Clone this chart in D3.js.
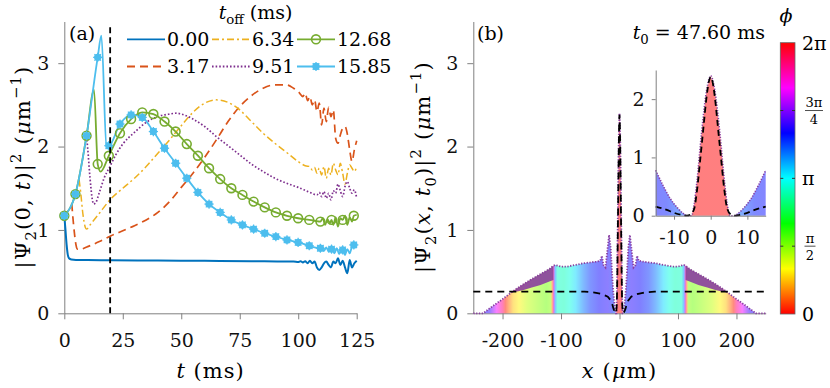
<!DOCTYPE html>
<html>
<head>
<meta charset="utf-8">
<script src="https://cdn.jsdelivr.net/npm/d3@7"></script>
<style>
  body { margin: 0; background: #fff; }
</style>
</head>
<body>
<svg id="fig" width="830" height="388"></svg>
<script>
// ---------- panel (a): |Psi_2(0,t)|^2 for several t_off ----------
const tOffLabels = ["0.00", "3.17", "6.34", "9.51", "12.68", "15.85"];
const seriesColors = ["#0072BD", "#D95319", "#EDB120", "#7E2F8E", "#77AC30", "#4DBEEE"];
const tCut = 19.6;   // vertical dashed marker (ms)

const t000 = [0,0.5,1,1.5,2,3,5,10,20,40,60,80,95,98,100,101,102,103,104,105,106,107,108,109,110,111,112,113,114,115,116,117,118,119,120,121,122,123,124,125];
const y000 = [1.17,1.0,0.82,0.70,0.66,0.645,0.64,0.64,0.635,0.632,0.63,0.625,0.62,0.62,0.615,0.625,0.61,0.625,0.60,0.63,0.60,0.62,0.55,0.52,0.55,0.60,0.62,0.58,0.55,0.62,0.60,0.66,0.58,0.63,0.55,0.48,0.64,0.55,0.60,0.63];

const t317 = [3.17,4,5,5.5,7,10,15,20,25,30,35,40,45,50,55,60,65,70,75,80,85,90,95,98,100,102,103,104,105,106,107,108,109,110,111,112,113,114,115,116,117,118,119,120,121,122,123,124,125];
const y317 = [1.32,1.05,0.82,0.77,0.77,0.80,0.86,0.93,0.99,1.05,1.12,1.21,1.34,1.51,1.68,1.87,2.08,2.30,2.48,2.61,2.70,2.74,2.74,2.70,2.66,2.60,2.64,2.55,2.60,2.50,2.56,2.42,2.52,2.26,2.46,2.30,2.47,2.36,2.44,2.10,2.04,2.14,2.22,2.24,2.15,1.96,1.82,1.96,2.07];

const t634 = [6.34,7,8,9,9.5,11,15,19.5,25,30,35,40,45,50,55,60,65,70,75,80,85,90,95,100,103,105,106,107,108,109,110,111,112,113,114,115,116,117,118,119,120,121,122,123,124,125];
const y634 = [1.60,1.45,1.18,1.03,1.01,1.06,1.20,1.36,1.50,1.62,1.76,1.92,2.08,2.25,2.41,2.52,2.56,2.53,2.44,2.30,2.16,2.04,1.93,1.82,1.77,1.76,1.72,1.75,1.68,1.74,1.66,1.76,1.62,1.74,1.66,1.80,1.72,1.66,1.80,1.68,1.55,1.68,1.78,1.74,1.70,1.76];

const t951 = [9.51,10,11,12,12.5,13.5,15,17,19.5,22,25,30,35,40,45,48,50,55,60,65,70,75,80,85,90,95,100,105,108,109,110,111,112,113,114,115,116,117,118,119,120,121,122,123,124,125];
const y951 = [2.12,1.98,1.62,1.36,1.31,1.33,1.45,1.62,1.76,1.90,2.03,2.17,2.29,2.36,2.39,2.40,2.39,2.33,2.24,2.12,2.01,1.90,1.79,1.70,1.62,1.56,1.51,1.45,1.42,1.45,1.40,1.46,1.38,1.44,1.36,1.47,1.44,1.55,1.47,1.40,1.52,1.58,1.50,1.44,1.48,1.38];

const t1268 = [0,4.76,9.52,12.7,14.28,15.5,19.04,23.8,28.56,33.32,38.08,42.84,47.6,52.36,57.12,61.88,66.64,71.4,76.16,80.92,85.68,90.44,95.2,99.96,104.72,107,109.48,110.5,111.5,112.5,113.5,114.24,115,116,117,118,119,120,121,122,123,123.76,125];
const y1268 = [1.17,1.43,2.13,2.68,1.79,1.70,1.89,2.16,2.33,2.41,2.39,2.30,2.18,2.03,1.89,1.74,1.61,1.50,1.42,1.34,1.27,1.21,1.17,1.14,1.12,1.11,1.10,1.14,1.06,1.13,1.08,1.12,1.06,1.15,1.04,1.14,1.12,1.17,1.06,1.15,1.10,1.17,1.18];

const t1585 = [0,4.76,9.52,14.28,15.85,18,19.04,23.8,28.56,33.32,38.08,42.84,47.6,52.36,57.12,61.88,66.64,71.4,76.16,80.92,85.68,90.44,95.2,99.96,104.72,107,109.48,111,112,113,114.24,115.5,116.5,117.5,118.5,119,120,121,122,123,123.76,125];
const y1585 = [1.17,1.43,2.13,3.07,3.33,2.02,2.01,2.27,2.38,2.35,2.18,1.98,1.80,1.62,1.45,1.31,1.21,1.12,1.06,1.01,0.96,0.92,0.88,0.85,0.81,0.79,0.78,0.75,0.79,0.74,0.77,0.72,0.78,0.71,0.76,0.76,0.70,0.77,0.72,0.80,0.82,0.80];

// marker samples
const tMark = [0,4.76,9.52,14.28,19.04,23.8,28.56,33.32,38.08,42.84,47.6,52.36,57.12,61.88,66.64,71.4,76.16,80.92,85.68,90.44,95.2,99.96,104.72,109.48,114.24,119,123.76];
const yMark1268 = [1.17,1.43,2.13,1.79,1.89,2.16,2.33,2.41,2.39,2.30,2.18,2.03,1.89,1.74,1.61,1.50,1.42,1.34,1.27,1.21,1.17,1.14,1.12,1.10,1.12,1.12,1.17];
const yMark1585 = [1.17,1.43,2.13,3.07,2.01,2.27,2.38,2.35,2.18,1.98,1.80,1.62,1.45,1.31,1.21,1.12,1.06,1.01,0.96,0.92,0.88,0.85,0.81,0.78,0.77,0.76,0.82];

// ---------- panel (b): |Psi_2(x,t0)|^2 at t0 = 47.60 ms ----------
const densX = [-250,-233,-220,-210,-200,-185,-175,-164,-150,-135,-120,-113,-110,-105,-100,-90,-75,-62,-50,-40,-33,-30,-27.5,-24,-17.8,-15,-13,-11,-9,-7.5,-6.4,-5.2,-4.5,-3.8,-2.5,-1.1,0,
               1.1,2.5,3.8,4.5,5.2,6.4,7.5,9,11,13,15,17.8,24,27.5,30,33,40,50,62,75,90,100,105,110,113,120,135,150,164,175,185,200,210,220,233,250];
const densY = [0,0,0.07,0.12,0.17,0.25,0.30,0.35,0.41,0.47,0.53,0.57,0.58,0.57,0.56,0.56,0.58,0.60,0.61,0.62,0.63,0.69,0.58,0.55,0.94,0.78,0.52,0.29,0.13,0.04,0,0,0.2,0.56,1.42,2.16,2.40,
               2.16,1.42,0.56,0.2,0,0,0.04,0.13,0.29,0.52,0.78,0.94,0.55,0.58,0.69,0.63,0.62,0.61,0.60,0.58,0.56,0.56,0.57,0.58,0.57,0.53,0.47,0.41,0.35,0.30,0.25,0.17,0.12,0.07,0,0];

// fast-oscillation band (lower / upper envelope)
const bandLX = [-185,-175,-164,-150,-135,-120,-113];
const bandLLo = [0.25,0.26,0.28,0.31,0.34,0.38,0.40];
const bandLHi = [0.25,0.30,0.35,0.41,0.47,0.53,0.57];
const bandRX = [113,120,135,150,164,175,185];
const bandRLo = [0.40,0.38,0.34,0.31,0.28,0.26,0.25];
const bandRHi = [0.57,0.53,0.47,0.41,0.35,0.30,0.25];

// reference (dashed) profile
const gsX = [-250,-60,-50,-40,-30,-20,-15,-12,-10,-8,-6.5,-5.5,-4.5,-3.7,-2.8,-2,-1.2,-0.5,0,0.5,1.2,2,2.8,3.7,4.5,5.5,6.5,8,10,12,15,20,30,40,50,60,250];
const gsY = [0.26,0.26,0.255,0.245,0.23,0.20,0.155,0.10,0.05,0.015,0,0.02,0.12,0.45,1.0,1.5,2.0,2.3,2.38,2.3,2.0,1.5,1.0,0.45,0.12,0.02,0,0.015,0.05,0.10,0.155,0.20,0.23,0.245,0.255,0.26,0.26];

// phase along x (rad)
const phaseX = [-250,-235,-222,-210,-200,-195,-190,-182,-172,-158,-140,-125,-118,-115.5,-113.5,-112,-110,-106,-95,-85,-75,-62,-50,-35,-20,-12,-8,-6,-5.2,0,5.2,6,8,12,20,35,50,62,75,85,95,106,110,112,113.5,115.5,118,125,140,158,172,182,190,195,200,210,222,235,250];
const phaseV = [4.2,4.2,4.4,5.2,5.8,0.1,0.4,0.8,1.0,1.3,1.5,1.65,1.55,0.6,5.9,4.8,3.6,2.9,2.85,3.0,3.3,3.7,4.0,4.2,4.3,4.1,3.8,4.6,6.28,6.28,6.28,4.6,3.8,4.1,4.3,4.2,4.0,3.7,3.3,3.0,2.85,2.9,3.6,4.8,5.9,0.6,1.55,1.65,1.5,1.3,1.0,0.8,0.4,0.1,5.8,5.2,4.4,4.2,4.2];

const cbTicks = [0, Math.PI/2, Math.PI, 3*Math.PI/2, 2*Math.PI];
const cbLabels = [["0"], ["π","2"], ["π"], ["3π","4"], ["2π"]];

// ---------- helpers ----------
const svg = d3.select("#fig");
const zip = (a, b) => a.map((v, i) => [v, b[i]]);
const FS = 19;      // tick / legend text
const LFS = 21;     // axis titles
const FONT = "DejaVu Serif";
const AXIS_GREY = "#808080";
const phaseColor = p => d3.hsl((p / (2*Math.PI)) * 360, 1, 0.5).formatHex();

// parts: [text, flags] where flags may contain i (italic), sub, sup
function rich(sel, parts, size) {
  let shift = 0;
  sel.style("font-family", FONT);
  parts.forEach(([s, f]) => {
    f = f || "";
    const ts = sel.append("tspan").text(s);
    let target = 0;
    if (f.includes("sub")) target = 0.28*size;
    if (f.includes("sup")) target = -0.42*size;
    ts.attr("dy", target - shift);
    shift = target;
    if (target !== 0) ts.attr("font-size", size*0.7);
    if (f.split(",").includes("i")) ts.attr("font-style", "italic");
  });
  return sel;
}

function styleAxis(g, size) {
  g.attr("font-family", null).attr("font-size", size);
  g.select(".domain").attr("stroke", AXIS_GREY).attr("stroke-width", 1);
  g.selectAll(".tick line").attr("stroke", AXIS_GREY);
  g.selectAll(".tick text").attr("fill", "#111").style("font-family", FONT)
    .attr("font-size", size);
}

function label(g, x, y, txt, anchor) {
  return g.append("text").attr("x", x).attr("y", y).attr("font-size", FS)
    .style("font-family", FONT).attr("text-anchor", anchor || "start").text(txt);
}

const intFmt = d => String(d);

// ---------- panel (a) ----------
const xA = d3.scaleLinear().domain([0, 125]).range([64.3, 356.7]);
const yA = d3.scaleLinear().domain([0, 3.5]).range([313.3, 21.5]);

const gA = svg.append("g");
gA.append("g").attr("transform", `translate(0,${yA(0)})`)
  .call(d3.axisBottom(xA).tickValues([0,25,50,75,100,125]).tickFormat(intFmt).tickSize(6).tickSizeOuter(0).tickPadding(14))
  .call(g => styleAxis(g, FS));
gA.append("g").attr("transform", `translate(${xA(0)},0)`)
  .call(d3.axisLeft(yA).tickValues([0,1,2,3]).tickFormat(intFmt).tickSize(6).tickSizeOuter(0).tickPadding(9))
  .call(g => styleAxis(g, FS));

const lineA = d3.line().x(d => xA(d[0])).y(d => yA(d[1])).curve(d3.curveMonotoneX);
const seriesA = [
  {d: zip(t000, y000), dash: null, w: 2},
  {d: zip(t317, y317), dash: "8,5", w: 1.7},
  {d: zip(t634, y634), dash: "7,3,2,3", w: 1.5},
  {d: zip(t951, y951), dash: "1.6,2", w: 1.7},
  {d: zip(t1268, y1268), dash: null, w: 1.8},
  {d: zip(t1585, y1585), dash: null, w: 1.8}
];
seriesA.forEach((s, i) => {
  gA.append("path").datum(s.d)
    .attr("d", lineA).attr("fill", "none")
    .attr("stroke", seriesColors[i]).attr("stroke-width", s.w)
    .attr("stroke-dasharray", s.dash);
});

function starMarker(g, cx, cy, color) {
  g.append("circle").attr("cx", cx).attr("cy", cy).attr("r", 3.7).attr("fill", color);
  const r = 4.6;
  [0, 45, 90, 135].forEach(a => {
    const dx = r*Math.cos(a*Math.PI/180), dy = r*Math.sin(a*Math.PI/180);
    g.append("line").attr("x1", cx-dx).attr("y1", cy-dy).attr("x2", cx+dx).attr("y2", cy+dy)
      .attr("stroke", color).attr("stroke-width", 1.2);
  });
}
function circleMarker(g, cx, cy, color) {
  g.append("circle").attr("cx", cx).attr("cy", cy).attr("r", 4.4)
    .attr("fill", "none").attr("stroke", color).attr("stroke-width", 1.6);
}

const markG = gA.append("g");
zip(tMark, yMark1268).forEach(d => circleMarker(markG, xA(d[0]), yA(d[1]), seriesColors[4]));
zip(tMark, yMark1585).forEach(d => starMarker(markG, xA(d[0]), yA(d[1]), seriesColors[5]));

gA.append("line")
  .attr("x1", xA(tCut)).attr("x2", xA(tCut)).attr("y1", yA(0)).attr("y2", yA(3.45))
  .attr("stroke", "#000").attr("stroke-width", 1.8).attr("stroke-dasharray", "6,4");

// legend
const legX = [127, 212, 297];
const legY = [39.3, 66.5];
const legDash = [null, "8,5", "7,3,2,3", "1.6,2", null, null];
tOffLabels.forEach((lab, i) => {
  const col = Math.floor(i / 2), row = i % 2;
  const lx = legX[col], ly = legY[row];
  gA.append("line").attr("x1", lx).attr("x2", lx + 38).attr("y1", ly).attr("y2", ly)
    .attr("stroke", seriesColors[i]).attr("stroke-width", 1.8).attr("stroke-dasharray", legDash[i]);
  if (i === 4) circleMarker(gA, lx + 19, ly, seriesColors[i]);
  if (i === 5) starMarker(gA, lx + 19, ly, seriesColors[i]);
  label(gA, lx + 40, ly + 6.7, lab);
});
rich(gA.append("text").attr("x", 255.5).attr("y", 19).attr("text-anchor", "middle").attr("font-size", FS),
  [["t", "i"], ["off", "sub"], [" (ms)"]], FS);

label(gA, 69, 40, "(a)");
rich(gA.append("text").attr("x", xA(62.5)).attr("y", 378).attr("text-anchor", "middle")
    .attr("font-size", LFS).attr("letter-spacing", 1),
  [["t", "i"], [" (ms)"]], LFS);
rich(gA.append("text").attr("transform", "translate(30,167) rotate(-90)").attr("text-anchor", "middle")
    .attr("font-size", LFS).attr("letter-spacing", 1.2),
  [["|Ψ"], ["2", "sub"], ["(0, "], ["t", "i"], [")|"], ["2", "sup"], [" ("], ["μ", "i"], ["m"], ["−1", "sup"], [")"]], LFS);

// ---------- panel (b) ----------
const xB = d3.scaleLinear().domain([-250, 250]).range([473.3, 765.7]);
const yB = d3.scaleLinear().domain([0, 3.5]).range([313.3, 21.5]);
const gB = svg.append("g");
const defs = svg.append("defs");

function phaseGradient(id, xs) {
  const grad = defs.append("linearGradient").attr("id", id)
    .attr("gradientUnits", "userSpaceOnUse")
    .attr("x1", xs(-250)).attr("x2", xs(250)).attr("y1", 0).attr("y2", 0);
  zip(phaseX, phaseV).forEach(([x, p]) => {
    grad.append("stop").attr("offset", (x + 250) / 500).attr("stop-color", phaseColor(p));
  });
}
phaseGradient("phaseMain", xB);

gB.append("g").attr("transform", `translate(0,${yB(0)})`)
  .call(d3.axisBottom(xB).tickValues([-200,-100,0,100,200]).tickFormat(intFmt).tickSize(6).tickSizeOuter(0).tickPadding(14))
  .call(g => styleAxis(g, FS));
gB.append("g").attr("transform", `translate(${xB(-250)},0)`)
  .call(d3.axisLeft(yB).tickValues([0,1,2,3]).tickFormat(intFmt).tickSize(6).tickSizeOuter(0).tickPadding(9))
  .call(g => styleAxis(g, FS));

const densData = zip(densX, densY);
const areaB = d3.area().x(d => xB(d[0])).y0(yB(0)).y1(d => yB(d[1]));
const lineB = d3.line().x(d => xB(d[0])).y(d => yB(d[1]));
gB.append("path").datum(densData).attr("d", areaB)
  .attr("fill", "url(#phaseMain)").attr("fill-opacity", 0.5);

const bandArea = d3.area().x(d => xB(d[0])).y0(d => yB(d[1])).y1(d => yB(d[2]));
[[bandLX, bandLLo, bandLHi], [bandRX, bandRLo, bandRHi]].forEach(([bx, lo, hi]) => {
  gB.append("path").datum(bx.map((x, i) => [x, lo[i], hi[i]])).attr("d", bandArea)
    .attr("fill", "#8a3fa0").attr("fill-opacity", 0.9);
});
gB.append("path").datum(densData).attr("d", lineB).attr("fill", "none")
  .attr("stroke", "#8a3fa0").attr("stroke-width", 1.8).attr("stroke-dasharray", "1.3,1.5");
gB.append("path").datum(zip(gsX, gsY)).attr("d", lineB).attr("fill", "none")
  .attr("stroke", "#000").attr("stroke-width", 1.8).attr("stroke-dasharray", "7,5");

label(gB, 477, 40, "(b)");
rich(gB.append("text").attr("x", 765).attr("y", 39).attr("text-anchor", "end").attr("font-size", FS),
  [["t", "i"], ["0", "sub"], [" = 47.60 ms"]], FS);
rich(gB.append("text").attr("x", xB(0)).attr("y", 378).attr("text-anchor", "middle")
    .attr("font-size", LFS).attr("letter-spacing", 1.2),
  [["x", "i"], [" ("], ["μ", "i"], ["m)"]], LFS);
rich(gB.append("text").attr("transform", "translate(430,167) rotate(-90)").attr("text-anchor", "middle")
    .attr("font-size", LFS).attr("letter-spacing", 1.2),
  [["|Ψ"], ["2", "sub"], ["("], ["x", "i"], [", "], ["t", "i"], ["0", "sub"], [")|"], ["2", "sup"], [" ("], ["μ", "i"], ["m"], ["−1", "sup"], [")"]], LFS);

// ---------- inset ----------
const xI = d3.scaleLinear().domain([-15, 15]).range([655.7, 765.7]);
const yI = d3.scaleLinear().domain([0, 2.5]).range([215.7, 70]);
phaseGradient("phaseInset", xI);
const gI = svg.append("g");
const inRange = d => d[0] >= -15 && d[0] <= 15;
const insetData = densData.filter(inRange);
const gsInset = zip(gsX, gsY).filter(inRange);

gI.append("path").datum(insetData)
  .attr("d", d3.area().x(d => xI(d[0])).y0(yI(0)).y1(d => yI(d[1])))
  .attr("fill", "url(#phaseInset)").attr("fill-opacity", 0.5);
const lineI = d3.line().x(d => xI(d[0])).y(d => yI(d[1])).curve(d3.curveMonotoneX);
gI.append("path").datum(insetData).attr("d", lineI).attr("fill", "none")
  .attr("stroke", "#8a3fa0").attr("stroke-width", 1.6).attr("stroke-dasharray", "1.2,1.5");
gI.append("path").datum(gsInset).attr("d", lineI).attr("fill", "none")
  .attr("stroke", "#000").attr("stroke-width", 1.8).attr("stroke-dasharray", "6,4");

gI.append("g").attr("transform", `translate(0,${yI(0)})`)
  .call(d3.axisBottom(xI).tickValues([-10,0,10]).tickFormat(intFmt).tickSize(4).tickSizeOuter(0).tickPadding(11))
  .call(g => styleAxis(g, FS));
gI.append("g").attr("transform", `translate(${xI(-15)},0)`)
  .call(d3.axisLeft(yI).tickValues([0,1,2]).tickFormat(intFmt).tickSize(4).tickSizeOuter(0).tickPadding(7))
  .call(g => styleAxis(g, FS));

// ---------- colorbar ----------
const cbY = d3.scaleLinear().domain([0, 2*Math.PI]).range([314, 42.7]);
const cbX0 = 780.3, cbX1 = 795;
const cbGrad = defs.append("linearGradient").attr("id", "cbGrad")
  .attr("x1", 0).attr("y1", 1).attr("x2", 0).attr("y2", 0);
d3.range(0, 13).forEach(k => {
  cbGrad.append("stop").attr("offset", k / 12).attr("stop-color", phaseColor(k / 12 * 2 * Math.PI));
});
const gC = svg.append("g");
gC.append("rect").attr("x", cbX0).attr("y", cbY(2*Math.PI)).attr("width", cbX1 - cbX0)
  .attr("height", cbY(0) - cbY(2*Math.PI)).attr("fill", "url(#cbGrad)")
  .attr("stroke", "#666").attr("stroke-width", 0.8);
cbTicks.forEach((v, i) => {
  const y = cbY(v);
  if (i > 0 && i < cbTicks.length - 1) {
    gC.append("line").attr("x1", cbX1 - 3).attr("x2", cbX1).attr("y1", y).attr("y2", y).attr("stroke", "#333");
    gC.append("line").attr("x1", cbX0).attr("x2", cbX0 + 3).attr("y1", y).attr("y2", y).attr("stroke", "#333");
  }
  const lab = cbLabels[i];
  if (lab.length === 1) {
    label(gC, 802, y + 7, lab[0]);
  } else {
    const cx = lab[0].length > 1 ? 814 : 810;
    const w = lab[0].length > 1 ? 18 : 11;
    label(gC, cx, y - 3.5, lab[0], "middle").attr("font-size", 13);
    gC.append("line").attr("x1", cx - w/2).attr("x2", cx + w/2).attr("y1", y).attr("y2", y).attr("stroke", "#222").attr("stroke-width", 0.8);
    label(gC, cx, y + 13.5, lab[1], "middle").attr("font-size", 13);
  }
});
label(gC, 786, 22, "ϕ", "middle").attr("font-style", "italic");
</script>
</body>
</html>
